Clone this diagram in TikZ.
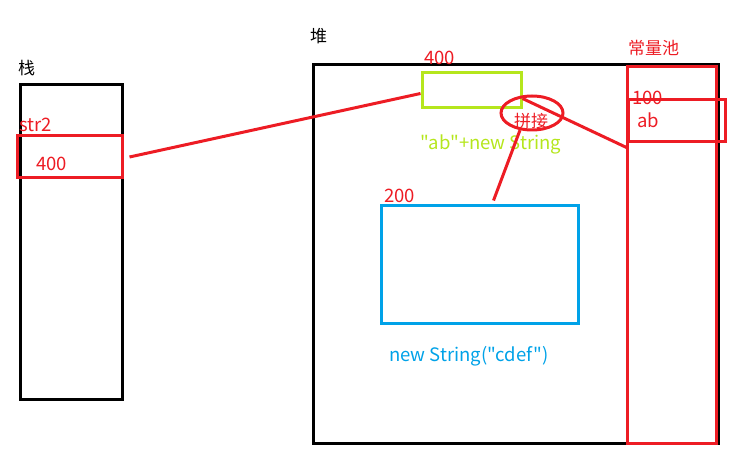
\documentclass[tikz,border=0pt]{standalone}
\usepackage{fontspec}
\setmainfont{Noto Sans CJK SC}
\newfontfamily\plainfont{Noto Sans CJK SC}
\usetikzlibrary{shapes.geometric}
\definecolor{memred}{HTML}{ED1C24}
\definecolor{objgreen}{HTML}{B5E61D}
\definecolor{objblue}{HTML}{00A2E8}
\begin{document}
\begin{tikzpicture}[x=1pt,y=-1pt,
        box/.style={draw,line width=3pt,inner sep=0pt},
        lbl/.style={anchor=base west,inner sep=0pt,font=\fontsize{17}{19}\selectfont},
        num/.style={anchor=base west,inner sep=0pt,font=\plainfont\fontsize{18.5}{21}\selectfont}]
        \useasboundingbox (0,0) rectangle (730,457);
        % stack
        \node[box,minimum width=102pt,minimum height=314pt] (stack) at (71,242) {};
        \node[lbl] (stacktxt) at (18,75) {栈};
        \node[num,memred] (strname) at (19,132) {str2};
        \node[box,memred,minimum width=105pt,minimum height=42pt] (cellA) at (69.5,157) {};
        \node[num,memred] (cellAval) at (36,171) {400};
        % heap
        \node[box,minimum width=405pt,minimum height=378pt] (heap) at (515.5,254) {};
        \node[lbl] (heaptxt) at (310,43) {堆};
        \node[box,objgreen,minimum width=99pt,minimum height=35pt] (strobj) at (471.5,90.5) {};
        \node[num,memred] (strobjaddr) at (424,65) {400};
        \node[num,objgreen] (strobjtxt) at (420,150) {"ab"+new String};
        \node[box,objblue,minimum width=197pt,minimum height=118pt] (cdef) at (479.5,264) {};
        \node[num,memred] (cdefaddr) at (384,202) {200};
        \node[num,objblue] (cdeftxt) at (389,361) {new String("cdef")};
        % constant pool
        \node[box,memred,minimum width=89pt,minimum height=376pt] (pool) at (671.5,255) {};
        \node[lbl,memred] (pooltxt) at (628,55) {常量池};
        \node[box,memred,minimum width=97pt,minimum height=42pt] (abcell) at (676.5,121) {};
        \node[num,memred] (abaddr) at (632,105) {100};
        \node[num,memred] (abtxt) at (637,128) {ab};
        % concat
        \node[draw,memred,line width=3pt,ellipse,minimum width=62pt,minimum height=34pt,inner sep=0pt] (concat) at (532,113) {};
        \node[lbl,memred] (concattxt) at (514,128) {拼接};
        % links
        \draw[memred,line width=3pt] ([xshift=6pt]cellA.east) -- ([yshift=-3pt]strobj.west);
        \draw[memred,line width=3pt] ([yshift=-8pt]strobj.east) -- ([yshift=-4pt]abcell.south west);
        \draw[memred,line width=3pt] ([xshift=14pt,yshift=3pt]cdef.north) -- (concat.235);
\end{tikzpicture}
\end{document}
